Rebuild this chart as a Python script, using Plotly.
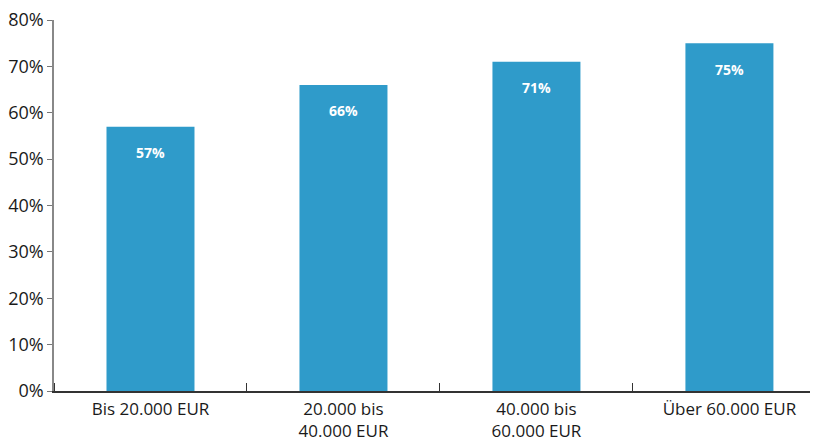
import plotly.graph_objects as go

categories = ["Bis 20.000 EUR", "20.000 bis<br>40.000 EUR", "40.000 bis<br>60.000 EUR", "Über 60.000 EUR"]
values = [57, 66, 71, 75]
labels = ["57%", "66%", "71%", "75%"]
y_ticks = [0, 10, 20, 30, 40, 50, 60, 70, 80]
y_tick_text = [f"{v}%" for v in y_ticks]

bar_color = "#2f9bca"

fig = go.Figure(go.Bar(
    x=list(range(len(categories))),
    y=values,
    width=0.456,
    marker=dict(color=bar_color, line=dict(width=0)),
    hoverinfo="skip",
))

for i, (v, t) in enumerate(zip(values, labels)):
    fig.add_annotation(x=i, y=v, text=f"<b>{t}</b>", showarrow=False,
                       yanchor="middle", yshift=-26,
                       font=dict(family="Open Sans", size=14, color="white"))

# page body has an 8px default margin; margins compensate for it
fig.update_layout(
    width=818, height=437,
    margin=dict(l=46, r=8, t=12, b=54),
    plot_bgcolor="white", paper_bgcolor="white",
    showlegend=False,
    font=dict(family="Open Sans", size=18, color="#1a1a1a"),
)
fig.update_xaxes(
    type="linear",
    range=[-0.5, 3.459],
    tickmode="array",
    tickvals=list(range(len(categories))),
    ticktext=categories,
    ticks="", showgrid=False, zeroline=False,
    showline=True, linecolor="#333333", linewidth=1.5,
    tickfont=dict(family="Open Sans", size=17, color="#1a1a1a"),
    ticklabelstandoff=2,
    ticklabeloverflow="allow",
    automargin=False,
)
fig.update_xaxes(minor=dict(tickmode="array", tickvals=[-0.5, 0.5, 1.5, 2.5],
                            ticks="inside", ticklen=8, tickcolor="#333333", tickwidth=1.2))
fig.update_yaxes(
    range=[0, 80],
    tickmode="array", tickvals=y_ticks, ticktext=y_tick_text,
    ticks="outside", ticklen=5, tickcolor="#777777", tickwidth=1.2,
    showgrid=False, zeroline=False,
    showline=True, linecolor="#888888", linewidth=1.5,
    tickfont=dict(family="Open Sans", size=18, color="#1a1a1a"),
    ticklabeloverflow="allow",
    automargin=False,
)

fig.write_html("out.html")
